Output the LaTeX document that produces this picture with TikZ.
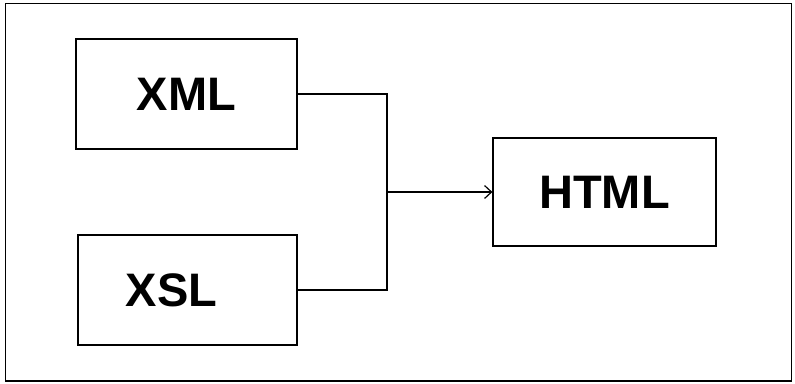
\documentclass[tikz,border=0pt]{standalone}
\usepackage{fontspec}
\setmainfont{Liberation Sans}
\usetikzlibrary{arrows.meta}

\tikzset{
  box/.style={draw, line width=1.2pt, minimum width=221pt, minimum height=110pt,
    inner sep=0pt, font=\fontsize{47}{47}\selectfont\bfseries},
  link/.style={line width=1.2pt}
}

\begin{document}
\begin{tikzpicture}[x=1pt,y=-1pt]
        % Frame of the picture
        \useasboundingbox (0,0) rectangle (795,383);
        \draw[line width=1.5pt] (5.5,3.5) rectangle (791.5,381);

        % Boxes
        \node[box] (xml) at (186.5,94) {XML};
        \node[box, minimum width=219pt] (xsl) at (187.5,290) {XSL\hspace*{32pt}};
        \node[box, minimum width=223pt, minimum height=108pt] (html) at (604.5,192) {HTML};

        % Point where both lines meet
        \coordinate (join) at (387,192);

        % Connect the inputs to the output
        \draw[link] (xml.east) -| (join) |- (xsl.east);
        \draw[link, -{Straight Barb[length=7pt,width=13pt]}] (join) -- (html.west);
\end{tikzpicture}
\end{document}
